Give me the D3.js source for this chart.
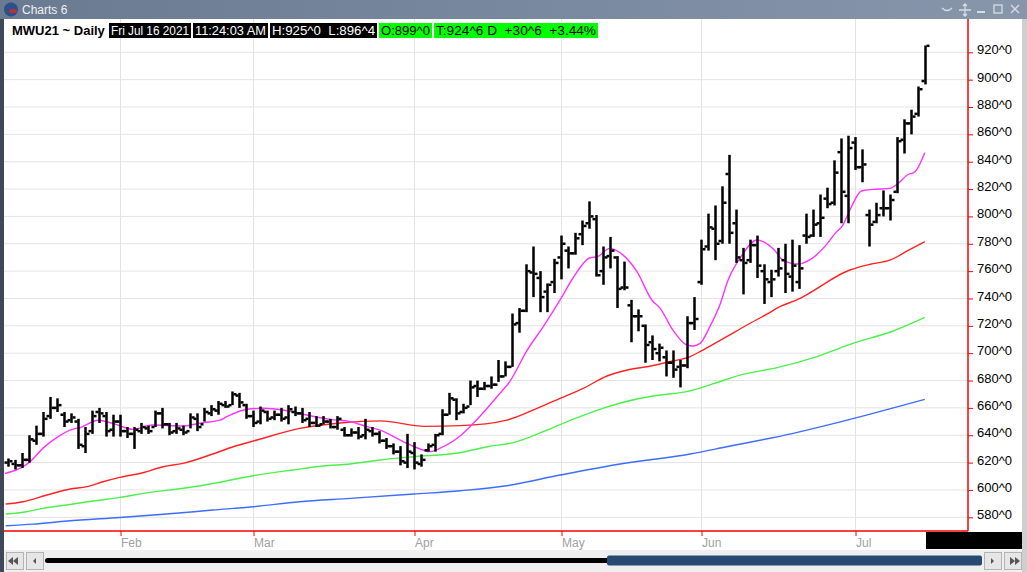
<!DOCTYPE html>
<html>
  <head>
    <title>Charts 6</title>
    <script src="https://d3js.org/d3.v7.min.js"></script>
    <style>
      body { margin: 0; background: #fff; overflow: hidden; }
      text { font-family: "Liberation Sans", Arial, sans-serif; }
    </style>
  </head>
  <body>
    <div id="chart"></div>
    <script>
      // MWU21 daily bars, Jan 7 2021 .. Jul 16 2021 (index = trading day)
      const months = ['Feb', 'Mar', 'Apr', 'May', 'Jun', 'Jul'];
      const monthStart = [16, 35, 58, 79, 99, 121];
      const yTicks = [580, 600, 620, 640, 660, 680, 700, 720, 740, 760, 780, 800, 820, 840, 860, 880, 900, 920];

      const high = [623, 622, 627, 640, 647, 657, 668, 667, 657, 656, 652, 646, 658, 660, 657, 655, 655, 646, 646, 649,
        647, 658, 660, 649, 649, 647, 656, 656, 660, 662, 665, 665, 672, 671, 663, 658, 661, 658, 658, 660,
        662, 661, 660, 657, 654, 654, 652, 654, 646, 645, 646, 652, 646, 643, 638, 634, 632, 641, 635, 626,
        634, 641, 659, 671, 667, 663, 680, 680, 679, 683, 695, 694, 729, 733, 765, 778, 760, 751, 769, 786,
        778, 788, 797, 811, 801, 778, 785, 771, 767, 739, 732, 721, 713, 707, 702, 702, 695, 727, 741, 783,
        802, 808, 822, 845, 805, 777, 783, 786, 765, 761, 777, 780, 783, 779, 802, 805, 816, 821, 841, 857,
        859, 858, 849, 805, 810, 819, 816, 858, 871, 878, 895, 925];
      const low = [617, 615, 616, 620, 633, 639, 652, 657, 646, 649, 630, 627, 641, 649, 639, 639, 639, 638, 630, 641,
        641, 646, 645, 640, 641, 640, 645, 643, 650, 654, 655, 660, 662, 660, 652, 646, 648, 650, 651, 650,
        648, 654, 649, 646, 646, 648, 645, 644, 639, 639, 637, 637, 639, 634, 630, 626, 618, 616, 615, 617,
        628, 628, 640, 655, 651, 656, 662, 668, 673, 674, 679, 683, 690, 715, 730, 741, 730, 730, 744, 754,
        762, 772, 779, 791, 756, 750, 762, 733, 746, 708, 716, 693, 695, 694, 683, 682, 675, 689, 717, 750,
        775, 768, 780, 780, 766, 743, 766, 755, 736, 741, 756, 744, 745, 747, 780, 785, 785, 806, 808, 795,
        795, 834, 825, 778, 795, 800, 797, 817, 846, 860, 873, 896.5];
      const open = [620, 619, 618, 622, 636, 641, 654, 660, 655, 651, 650, 632, 643, 657, 654, 644, 650, 643, 641, 643,
        645, 646, 656, 648, 643, 644, 643, 652, 648, 656, 658, 662, 662, 669, 662, 654, 650, 657, 653, 655,
        653, 657, 656, 652, 649, 648, 650, 646, 644, 640, 642, 640, 643, 641, 636, 632, 628, 620, 627, 619,
        629, 633, 641, 655, 666, 657, 661, 676, 674, 676, 677, 683, 690, 722, 731, 759, 755, 745, 752, 770,
        775, 773, 787, 795, 798, 760, 771, 770, 748, 735, 727, 720, 708, 700, 697, 693, 690, 691, 722, 752,
        778, 791, 782, 831, 795, 768, 768, 779, 760, 752, 760, 768, 756, 752, 786, 786, 795, 813, 810, 847,
        815, 854, 836, 801, 796, 806, 806, 818, 856, 868, 875, 899];
      const close = [621, 618, 622, 637, 641, 652, 660, 662, 650, 653, 633, 641, 654, 656, 643, 650, 643, 641, 644, 646,
        643, 656, 648, 642, 645, 642, 653, 646, 657, 659, 663, 661, 670, 664, 654, 649, 658, 652, 655, 652,
        659, 656, 651, 649, 647, 650, 646, 652, 640, 642, 639, 644, 641, 636, 632, 628, 621, 628, 620, 622,
        632, 640, 655, 667, 656, 660, 675, 674, 676, 677, 683, 690, 721, 731, 760, 758, 741, 750, 766, 780,
        773, 784, 793, 800, 757, 770, 775, 747, 748, 727, 727, 706, 703, 704, 693, 688, 691, 722, 725, 776,
        792, 780, 810, 788, 770, 766, 779, 764, 754, 754, 762, 758, 764, 762, 785, 794, 799, 809, 832, 818,
        850, 836, 838, 794, 801, 806, 812, 855, 868, 873, 893, 924.75];

      // moving averages: position (trading day) and value
      const maFastPos = [-0.5, 1.9, 3.1, 4.9, 7.1, 9.1, 10.2, 12.8, 14.9, 17.8, 20.6, 24.9, 27.8, 30.2, 31.2, 34.1, 36.4,
        39.2, 42.6, 45.9, 48.8, 51.2, 53.1, 55.5, 57.4, 59.2, 60.2, 61.6, 64.5, 66.4, 70.2, 71.6, 74.1, 76.4, 78.8,
        80.6, 83.1, 84.1, 85.9, 87.8, 89.8, 91.9, 93.1, 94.9, 96.9, 97.8, 98.8, 100.2, 101.6, 102.8, 104.8, 106.9,
        109.4, 110.6, 112.8, 114.8, 116.6, 118.1, 119.2, 120.2, 121.9, 123.6, 125.9, 127.1, 128.4, 129.5, 130.9];
      const maFastVal = [612, 616.5, 620.7, 630.4, 639, 644.3, 645.5, 651, 648.7, 644.3, 647.5, 646.8, 649.2, 651, 653.6,
        659, 659.7, 658.5, 654.8, 651.6, 650, 646.3, 643.8, 637.7, 632.9, 629.2, 628, 630.4, 639.4, 648.7, 670.6,
        679.2, 702.3, 719.4, 738.9, 754.6, 769.8, 770.5, 776.6, 771.7, 759.5, 738.9, 732.8, 717, 706, 705.3, 707.2,
        719.4, 735, 753.5, 771.8, 782.8, 775.4, 768.1, 765.2, 769.3, 777.9, 787.6, 793.7, 804.7, 818.8, 819.8,
        820.5, 824.2, 830.3, 832.7, 846.6];

      const maRedPos = [-0.4, 2.1, 5.5, 8.8, 11.2, 13.5, 15.9, 19.2, 22.1, 24.9, 29.2, 32.1, 35.5, 41.6, 47.4, 53.1,
        59.5, 64.5, 71.2, 75.5, 78.8, 82.1, 85.5, 88.4, 91.2, 94.9, 97.4, 99.2, 102.6, 105.5, 108.4, 110.2, 112.6,
        120.2, 123.1, 125.9, 128.8, 130.9];
      const maRedVal = [589.7, 591.4, 596.3, 600.7, 602.4, 606, 609.2, 612.6, 617, 619.4, 626.3, 631.6, 636.5, 645, 649,
        650.5, 646.5, 647, 651.1, 659.7, 667, 674.3, 683.3, 687.7, 690.1, 694.3, 697.5, 702.3, 712.1, 720.6, 728.7,
        734, 738.9, 760.8, 765, 768, 775.9, 781.5];

      const maGreenPos = [-0.4, 2.6, 4.9, 8.8, 12.1, 15.9, 20.2, 25.5, 29.8, 34.9, 40.6, 44.9, 48.8, 53.1, 57.8, 64.5,
        68.4, 72.1, 76.4, 80.6, 84.9, 89.8, 93.1, 96.9, 100.6, 104.5, 109.8, 115.5, 120.9, 125.9, 130.9];
      const maGreenVal = [582.4, 584.1, 586.5, 589.4, 591.9, 594.6, 598.2, 601.6, 605.3, 610.4, 614.6, 617.5, 619, 621.9,
        624.3, 627.2, 631.6, 634.6, 642.6, 651.6, 659.7, 666.5, 669.4, 671.9, 677.5, 684, 689.4, 697.5, 707.7,
        715.3, 726.2];

      const maBluePos = [-0.4, 3.5, 8.4, 15.9, 22.6, 29.2, 34.9, 41.6, 48.8, 57.9, 64.5, 71.2, 78.8, 87.4, 97.4, 102.6,
        112.1, 118.4, 123.5, 130.9];
      const maBlueVal = [573.8, 575, 577.3, 579.9, 582.4, 585.3, 587.7, 591.4, 593.8, 597, 599.4, 603.1, 610.9, 619,
        626.3, 631.6, 641.4, 649.2, 656, 666.2];

      const headerBoxes = [
        { text: 'Fri Jul 16 2021', bg: '#000', fg: '#fff', x: 109, w: 82 },
        { text: '11:24:03 AM', bg: '#000', fg: '#fff', x: 193, w: 75 },
        { text: 'H:925^0  L:896^4', bg: '#000', fg: '#fff', x: 270, w: 107 },
        { text: 'O:899^0', bg: '#00ff00', fg: '#000', x: 379, w: 53 },
        { text: 'T:924^6 D  +30^6  +3.44%', bg: '#00ff00', fg: '#000', x: 434, w: 164 }
      ];

      const W = 1027, H = 572;
      const plot = { left: 4, right: 968, top: 19, bottom: 531 };

      const svg = d3.select('#chart').append('svg')
        .attr('width', W).attr('height', H);

      // window title bar
      const grad = svg.append('defs').append('linearGradient').attr('id', 'tb');
      grad.append('stop').attr('offset', '0%').attr('stop-color', '#6a7a90');
      grad.append('stop').attr('offset', '100%').attr('stop-color', '#8796ab');
      svg.append('rect').attr('x', 0).attr('y', 0).attr('width', W).attr('height', plot.top).attr('fill', 'url(#tb)');
      svg.append('circle').attr('cx', 11).attr('cy', 9.5).attr('r', 7).attr('fill', '#2d4f8c');
      svg.append('ellipse').attr('cx', 13).attr('cy', 11).attr('rx', 4).attr('ry', 2).attr('fill', '#c03030');
      svg.append('text').attr('x', 22).attr('y', 14).attr('fill', '#eef0f4').attr('font-size', 12).text('Charts 6');
      const ic = svg.append('g').attr('stroke', '#d8dde4').attr('fill', 'none').attr('stroke-width', 1.3);
      ic.append('path').attr('d', 'M942,8 Q947,13 952,8');
      ic.append('path').attr('d', 'M965,4 V16 M959,10 H971 M963,6 L965,4 L967,6 M963,14 L965,16 L967,14');
      ic.append('path').attr('d', 'M977,12 H985').attr('stroke-width', 2);
      ic.append('rect').attr('x', 994).attr('y', 5).attr('width', 8).attr('height', 8);
      ic.append('path').attr('d', 'M1011,5 L1019,13 M1019,5 L1011,13');

      // window frame
      svg.append('rect').attr('x', 0).attr('y', plot.top).attr('width', plot.left).attr('height', H - plot.top).attr('fill', '#3e4858');
      svg.append('rect').attr('x', 1022).attr('y', plot.top).attr('width', 5).attr('height', H - plot.top).attr('fill', '#cfcfcf');

      const x = d3.scaleLinear().domain([0, close.length - 1]).range([8.5, 925.5]);
      const y = d3.scaleLinear().domain([580, 920]).range([517.3, 52.3]);

      // grid
      svg.append('g').selectAll('line.h').data(yTicks).enter().append('line')
        .attr('x1', plot.left).attr('x2', plot.right)
        .attr('y1', d => y(d)).attr('y2', d => y(d))
        .attr('stroke', '#e3e3e3').attr('stroke-width', 1);
      svg.append('g').selectAll('line.v').data(monthStart).enter().append('line')
        .attr('x1', d => x(d)).attr('x2', d => x(d))
        .attr('y1', plot.top).attr('y2', plot.bottom)
        .attr('stroke', '#e3e3e3').attr('stroke-width', 1);

      // moving averages
      const line = d3.line().x(d => x(d[0])).y(d => y(d[1])).curve(d3.curveMonotoneX);
      const mas = [
        { pos: maBluePos, val: maBlueVal, color: '#3d6cff' },
        { pos: maGreenPos, val: maGreenVal, color: '#4cf04c' },
        { pos: maRedPos, val: maRedVal, color: '#ff2222' },
        { pos: maFastPos, val: maFastVal, color: '#ff33ff' }
      ];
      mas.forEach(m => {
        svg.append('path')
          .datum(m.pos.map((p, i) => [p, m.val[i]]))
          .attr('d', line)
          .attr('fill', 'none')
          .attr('stroke', m.color)
          .attr('stroke-width', 1.4);
      });

      // OHLC bars
      const bars = svg.append('g').attr('fill', '#000');
      close.forEach((c, i) => {
        const cx = x(i);
        bars.append('rect').attr('x', cx - 1.25).attr('width', 2.5)
          .attr('y', y(high[i])).attr('height', Math.max(2, y(low[i]) - y(high[i])));
        bars.append('rect').attr('x', cx - 4).attr('width', 3)
          .attr('y', y(open[i]) - 1.25).attr('height', 2.5);
        bars.append('rect').attr('x', cx + 1).attr('width', 3)
          .attr('y', y(c) - 1.25).attr('height', 2.5);
      });

      // header row
      svg.append('text').attr('x', 12).attr('y', 35).attr('font-size', 13).attr('font-weight', 'bold')
        .attr('fill', '#000').text('MWU21 ~ Daily');
      headerBoxes.forEach(b => {
        svg.append('rect').attr('x', b.x).attr('y', 23).attr('width', b.w).attr('height', 15).attr('fill', b.bg);
        svg.append('text').attr('x', b.x + 2).attr('y', 35).attr('font-size', 12.5).attr('fill', b.fg)
          .attr('textLength', b.w - 4).attr('lengthAdjust', 'spacingAndGlyphs')
          .attr('xml:space', 'preserve').text(b.text);
      });

      // y axis (right)
      const yAxis = svg.append('g').attr('transform', 'translate(' + plot.right + ',0)')
        .call(d3.axisRight(y).tickValues(yTicks).tickSize(5).tickPadding(4).tickFormat(d => d + '^0'));
      yAxis.select('.domain').remove();
      yAxis.selectAll('line').attr('stroke', '#ff0000');
      yAxis.selectAll('text').attr('font-size', 13).attr('fill', '#000').attr('dy', '0.12em')
        .attr('font-family', '"Liberation Sans", Arial, sans-serif');

      // x axis
      const xAxis = svg.append('g').attr('transform', 'translate(0,' + plot.bottom + ')')
        .call(d3.axisBottom(x).tickValues(monthStart).tickSize(5).tickFormat((d, i) => months[i]));
      xAxis.select('.domain').remove();
      xAxis.selectAll('line').attr('stroke', '#ff0000');
      xAxis.selectAll('text').attr('text-anchor', 'start').attr('x', 0).attr('y', 7)
        .attr('font-size', 12).attr('fill', '#a0a0a0')
        .attr('font-family', '"Liberation Sans", Arial, sans-serif');

      svg.append('line').attr('x1', plot.left).attr('x2', plot.right).attr('y1', plot.bottom).attr('y2', plot.bottom)
        .attr('stroke', '#ff0000').attr('stroke-width', 1.5);
      svg.append('line').attr('x1', plot.right).attr('x2', plot.right).attr('y1', plot.top).attr('y2', plot.bottom)
        .attr('stroke', '#ff0000').attr('stroke-width', 1.5);
      svg.append('rect').attr('x', 926).attr('y', 532).attr('width', 96).attr('height', 17).attr('fill', '#000');

      // scrollbar
      const sb = svg.append('g');
      sb.append('rect').attr('x', plot.left).attr('y', 550).attr('width', 1018).attr('height', 22).attr('fill', '#efefef');
      [[6, 'M18,557 L13,561 L18,565 Z M13,557 L8,561 L13,565 Z'], [26, 'M36,558 L33,561 L36,564 Z'],
       [984, 'M991,558 L994,561 L991,564 Z'], [1004, 'M1010,557 L1015,561 L1010,565 Z M1015,557 L1020,561 L1015,565 Z']]
        .forEach(b => {
          sb.append('rect').attr('x', b[0] + 0.5).attr('y', 552.5).attr('width', 17).attr('height', 17)
            .attr('fill', '#e6e6e6').attr('stroke', '#b4b4b4');
          sb.append('path').attr('d', b[1]).attr('fill', '#555');
        });
      sb.append('rect').attr('x', 45).attr('y', 558).attr('width', 565).attr('height', 5).attr('rx', 2.5).attr('fill', '#000');
      sb.append('rect').attr('x', 607).attr('y', 555.5).attr('width', 375).attr('height', 10).attr('rx', 2).attr('fill', '#274a73');
    </script>
  </body>
</html>
